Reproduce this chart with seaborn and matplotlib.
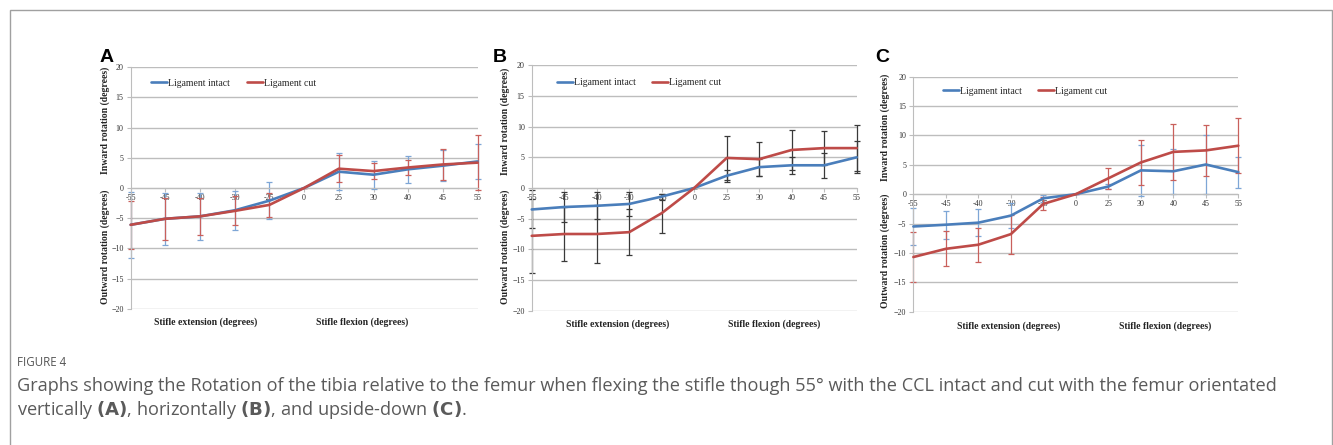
import numpy as np
import pandas as pd
import matplotlib
matplotlib.use("Agg")
import matplotlib.pyplot as plt
from matplotlib.patches import Rectangle
import seaborn as sns

angles = [-55, -45, -40, -30, -25, 0, 25, 30, 40, 45, 55]
series_names = ["Ligament intact", "Ligament cut"]

# panel A - femur vertical
a_intact = [-6.1, -5.1, -4.7, -3.7, -2.1, 0, 2.7, 2.2, 3.1, 3.7, 4.4]
a_cut = [-6.1, -5.1, -4.7, -3.8, -2.8, 0, 3.2, 2.8, 3.4, 3.9, 4.2]
a_intact_err = [5.5, 4.3, 3.9, 3.2, 3.1, 0, 3.1, 2.3, 2.2, 2.6, 2.9]
a_cut_err = [4.0, 3.5, 3.1, 2.4, 2.0, 0, 2.2, 1.3, 1.2, 2.6, 4.5]

# panel B - femur horizontal
b_intact = [-3.5, -3.1, -2.9, -2.6, -1.4, 0, 2.0, 3.4, 3.7, 3.7, 5.0]
b_cut = [-7.8, -7.5, -7.5, -7.2, -4.1, 0, 4.9, 4.7, 6.2, 6.5, 6.5]
b_intact_err = [3.1, 2.5, 2.2, 1.9, 0.5, 0, 1.0, 1.4, 1.4, 2.0, 2.6]
b_cut_err = [6.0, 4.4, 4.8, 3.8, 3.2, 0, 3.6, 2.8, 3.2, 2.8, 3.7]

# panel C - femur upside-down
c_intact = [-5.5, -5.2, -4.85, -3.65, -0.7, 0, 1.3, 4.05, 3.9, 5.05, 3.75]
c_cut = [-10.7, -9.3, -8.6, -6.8, -1.65, 0, 2.7, 5.4, 7.2, 7.45, 8.25]
c_intact_err = [3.1, 2.4, 2.25, 2.1, 0.6, 0, 0.5, 4.4, 3.85, 5.05, 2.65]
c_cut_err = [4.3, 3.0, 2.9, 3.3, 1.1, 0, 1.75, 3.8, 4.8, 4.4, 4.65]

blue = "#4A7EBB"
red = "#BE4B48"

sns.set_style("white")
plt.rcParams["font.family"] = ["Liberation Serif", "DejaVu Serif"]

fig = plt.figure(figsize=(13.33, 4.45), dpi=100)

# outer frame
fig.patches.append(Rectangle((10 / 1333, -0.05), 1322 / 1333, 1 - 10 / 445 + 0.05,
                             transform=fig.transFigure, fill=False,
                             edgecolor="#A0A0A0", lw=1))

panels = [
    # letter, data, axes rect, letter x, ylabel x, inward y, outward y, xlabel y, ext x, flex x, legend anchor, err colours
    ("A", (a_intact, a_cut, a_intact_err, a_cut_err), [0.098, 0.3063, 0.2603, 0.5425],
     100, 105, 120, 247, 322, 206, 362, (0.06, 0.934), ("#7EA6D6", "#C9605C")),
    ("B", (b_intact, b_cut, b_intact_err, b_cut_err), [0.3989, 0.3018, 0.2438, 0.5515],
     493, 505, 121, 247, 324, 618, 774, (0.077, 0.929), ("#3A3A3A", "#3A3A3A")),
    ("C", (c_intact, c_cut, c_intact_err, c_cut_err), [0.6852, 0.2996, 0.2438, 0.5281],
     875, 885, 127, 251, 326, 1009, 1165, (0.09, 0.939), ("#7EA6D6", "#C9605C")),
]

pos = np.arange(len(angles))

for letter, vals, rect, lx, ylx, in_y, out_y, xl_y, ext_x, flex_x, leg_xy, ecols in panels:
    intact, cut, intact_err, cut_err = vals
    ax = fig.add_axes(rect)
    df = pd.DataFrame({
        "pos": np.concatenate([pos, pos]),
        "value": intact + cut,
        "series": [series_names[0]] * len(pos) + [series_names[1]] * len(pos),
    })

    ax.errorbar(pos, intact, yerr=intact_err, fmt="none", ecolor=ecols[0],
                elinewidth=0.9, capsize=2.2, capthick=0.9, zorder=2, clip_on=False)
    ax.errorbar(pos, cut, yerr=cut_err, fmt="none", ecolor=ecols[1],
                elinewidth=0.9, capsize=2.2, capthick=0.9, zorder=2, clip_on=False)

    sns.lineplot(data=df, x="pos", y="value", hue="series", hue_order=series_names,
                 palette=[blue, red], linewidth=1.9, ax=ax, zorder=3, clip_on=False)

    ax.set_xlim(0, len(angles) - 1)
    ax.set_ylim(-20, 20)
    ax.set_yticks(np.arange(-20, 21, 5))
    ax.set_xticks(pos)
    ax.set_xticklabels([str(a) for a in angles])
    ax.yaxis.grid(True, color="#BDBDBD", lw=1.0)
    ax.set_axisbelow(True)
    ax.spines["top"].set_visible(False)
    ax.spines["right"].set_visible(False)
    ax.spines["bottom"].set_position(("data", 0))
    ax.spines["bottom"].set_color("#BDBDBD")
    ax.spines["left"].set_color("#BDBDBD")
    ax.tick_params(axis="y", labelsize=5.8, colors="#BDBDBD", labelcolor="#333333",
                   length=3, width=0.8, pad=2, left=True, direction="out")
    ax.tick_params(axis="x", labelsize=5.8, colors="#BDBDBD", labelcolor="#333333",
                   length=3, width=0.8, pad=1.5, bottom=True, direction="out")
    ax.set_xlabel("")
    ax.set_ylabel("")

    sns.move_legend(ax, "center left", bbox_to_anchor=leg_xy, ncol=2, frameon=False,
                    title=None, fontsize=7, handlelength=1.65, handletextpad=0.1,
                    columnspacing=1.7, borderpad=0, borderaxespad=0)

    H = 445.0
    W = 1333.0
    fig.text(lx / W, 1 - 62 / H, letter, family="Liberation Sans", weight="bold",
             fontsize=14, ha="left", va="baseline", color="black")
    fig.text(ylx / W, 1 - in_y / H, "Inward rotation (degrees)", rotation=90,
             weight="bold", fontsize=7, ha="center", va="center", color="#222222")
    fig.text(ylx / W, 1 - out_y / H, "Outward rotation (degrees)", rotation=90,
             weight="bold", fontsize=7, ha="center", va="center", color="#222222")
    fig.text(ext_x / W, 1 - xl_y / H, "Stifle extension (degrees)",
             weight="bold", fontsize=7, ha="center", va="center", color="#222222")
    fig.text(flex_x / W, 1 - xl_y / H, "Stifle flexion (degrees)",
             weight="bold", fontsize=7, ha="center", va="center", color="#222222")

# caption
cap_font = ["Open Sans", "DejaVu Sans"]
fig.text(17 / 1333, 1 - 362 / 445, "FIGURE 4", family=cap_font, fontsize=8.3,
         color="#555555", va="center", ha="left")
fig.text(17 / 1333, 1 - 386 / 445,
         "Graphs showing the Rotation of the tibia relative to the femur when flexing the stifle "
         "though 55\u00b0 with the CCL intact and cut with the femur orientated",
         family=cap_font, fontsize=13.1, color="#5A5A5A", va="center", ha="left")
fig.text(17 / 1333, 1 - 410 / 445,
         r"vertically $\mathbf{(A)}$, horizontally $\mathbf{(B)}$, and upside-down $\mathbf{(C)}$.",
         family=cap_font, fontsize=13.1, color="#5A5A5A", va="center", ha="left")

fig.savefig("out.png", dpi=100)
